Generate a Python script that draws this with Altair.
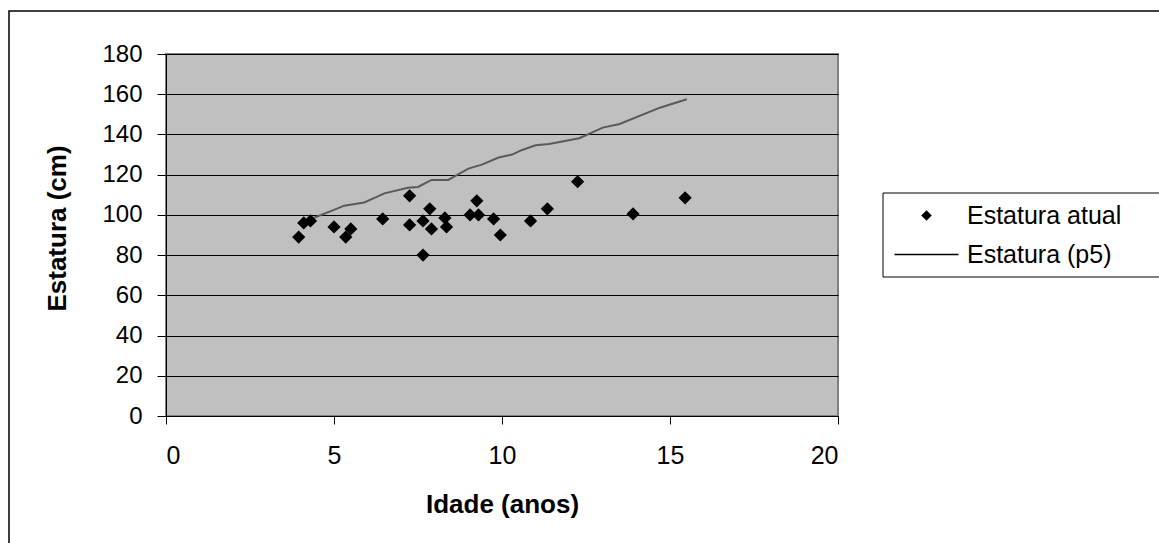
import altair as alt
import pandas as pd

# Scatter: current height (Estatura atual)
idade = [3.95, 4.1, 4.3, 5.0, 5.35, 5.5, 6.45, 7.25, 7.25, 7.65, 7.65, 7.85, 7.9,
         8.3, 8.35, 9.05, 9.25, 9.3, 9.75, 9.95, 10.85, 11.35, 12.25, 13.9, 15.45]
estatura = [89, 96, 97, 94, 89, 93, 98, 109.5, 95, 97, 80, 103, 93,
            98.5, 94, 100, 107, 100, 98, 90, 97, 103, 116.5, 100.5, 108.5]

# Line: 5th percentile height (Estatura (p5))
p5_idade = [4.4, 5.0, 5.3, 5.9, 6.5, 7.2, 7.5, 7.9, 8.4, 9.0, 9.4, 9.9, 10.3,
            10.6, 11.0, 11.4, 12.3, 13.0, 13.5, 14.7, 15.5]
p5_estatura = [98.6, 102.5, 104.6, 106.2, 110.7, 113.5, 113.9, 117.4, 117.4, 123.0,
               125.0, 128.5, 130.0, 132.3, 134.6, 135.3, 138.1, 143.4, 145.2, 153.3, 157.5]

series_names = ["Estatura atual", "Estatura (p5)"]

FONT = "Liberation Sans"

scatter_df = pd.DataFrame({"Idade": idade, "Estatura": estatura, "Serie": series_names[0]})
line_df = pd.DataFrame({"Idade": p5_idade, "Estatura": p5_estatura})

x_scale = alt.Scale(domain=[0, 20], nice=False, zero=False)
y_scale = alt.Scale(domain=[0, 180], nice=False)

x_axis = alt.Axis(values=[0, 5, 10, 15, 20], title="Idade (anos)", grid=False,
                  labelFont=FONT, labelFontSize=25, labelColor="black",
                  labelBaseline="alphabetic", labelPadding=39,
                  tickSize=8, tickColor="black", domainColor="black", domainWidth=1,
                  titleFont=FONT, titleFontSize=26, titleFontWeight="bold", titleColor="black",
                  titleX=336, titleY=96, titleBaseline="alphabetic", titleAlign="center")
y_axis = alt.Axis(values=list(range(0, 181, 20)), title="Estatura (cm)", grid=True,
                  gridColor="black", gridWidth=1, gridOpacity=1,
                  labelFont=FONT, labelFontSize=24, labelColor="black", labelPadding=15,
                  tickSize=9, tickColor="black", domainColor="black", domainWidth=1,
                  titleFont=FONT, titleFontSize=26, titleFontWeight="bold", titleColor="black",
                  titleX=-109, titleY=174, titleAngle=-90, titleBaseline="middle",
                  titleAlign="center")

legend = alt.Legend(orient="none", legendX=717, legendY=139, title=None,
                    labelFont=FONT, labelFontSize=25, labelColor="black",
                    padding=10, rowPadding=13, strokeColor="transparent",
                    fillColor="transparent",
                    symbolSize=110, symbolFillColor="black", symbolStrokeColor="black",
                    symbolStrokeWidth=0, symbolOffset=21, labelOffset=28, labelLimit=600)

points = alt.Chart(scatter_df).mark_point(filled=True, opacity=1, size=175, color="black").encode(
    x=alt.X("Idade:Q", scale=x_scale, axis=x_axis),
    y=alt.Y("Estatura:Q", scale=y_scale, axis=y_axis),
    shape=alt.Shape("Serie:N",
                    scale=alt.Scale(domain=series_names,
                                    range=["diamond", "M-6.1,-0.13H6.1V0.13H-6.1Z"]),
                    legend=legend),
)

line = alt.Chart(line_df).mark_line(color="#5a5a5a", strokeWidth=2).encode(
    x=alt.X("Idade:Q", scale=x_scale),
    y=alt.Y("Estatura:Q", scale=y_scale),
)

one = pd.DataFrame({"a": [0]})
# outer chart-area border (extends past the right and bottom edges)
frame = alt.Chart(one).mark_rect(
    fill=None, stroke="black", strokeWidth=1.5, clip=False
).encode(x=alt.value(-157), x2=alt.value(1200), y=alt.value(-43), y2=alt.value(700))

# legend border (extends past the right edge, as in the original)
legend_frame = alt.Chart(one).mark_rect(
    fill="white", stroke="black", strokeWidth=1, clip=False
).encode(x=alt.value(717), x2=alt.value(1100), y=alt.value(139), y2=alt.value(223))

chart = alt.layer(frame, line, points, legend_frame).properties(
    width=672, height=362,
    autosize=alt.AutoSizeParams(type="none"),
    padding={"left": 166, "top": 54, "right": 321, "bottom": 127},
    background="white",
).configure_view(
    fill="#c0c0c0", stroke="#808080", strokeWidth=2
)

chart.save("out.html", embed_options={"renderer": "svg", "actions": False})
